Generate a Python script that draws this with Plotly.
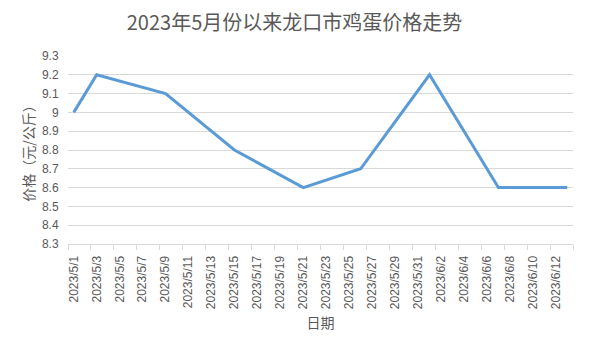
import plotly.graph_objects as go
import pandas as pd

# ---- data ----
dates = ["2023-05-01", "2023-05-03", "2023-05-09", "2023-05-15", "2023-05-21",
         "2023-05-26", "2023-06-01", "2023-06-07", "2023-06-13"]
prices = [9.0, 9.2, 9.1, 8.8, 8.6, 8.7, 9.2, 8.6, 8.6]

tick_labels = ["2023/5/1", "2023/5/3", "2023/5/5", "2023/5/7", "2023/5/9",
               "2023/5/11", "2023/5/13", "2023/5/15", "2023/5/17", "2023/5/19",
               "2023/5/21", "2023/5/23", "2023/5/25", "2023/5/27", "2023/5/29",
               "2023/5/31", "2023/6/2", "2023/6/4", "2023/6/6", "2023/6/8",
               "2023/6/10", "2023/6/12"]
y_tick_values = [8.3, 8.4, 8.5, 8.6, 8.7, 8.8, 8.9, 9.0, 9.1, 9.2, 9.3]
y_tick_labels = ["8.3", "8.4", "8.5", "8.6", "8.7", "8.8", "8.9", "9", "9.1", "9.2", "9.3"]

title_text = "2023年5月份以来龙口市鸡蛋价格走势"
x_title = "日期"
y_title = "价格（元/公斤）"

# ---- date-axis helpers (points plotted mid-day, like a date category axis) ----
fmt = "%Y-%m-%d %H:%M"
half_day = pd.Timedelta(hours=12)
x_points = [(d + half_day).strftime(fmt) for d in pd.to_datetime(dates)]
tick_days = pd.to_datetime(tick_labels, format="%Y/%m/%d")
major_pos = [(d + half_day).strftime(fmt) for d in tick_days]
minor_days = list(tick_days) + [tick_days[-1] + pd.Timedelta(days=2)]
minor_pos = [d.strftime(fmt) for d in minor_days]

grey = "#595959"
grid = "#D9D9D9"
tick_font = dict(family="Liberation Sans, Arial, sans-serif", size=12, color=grey)
cjk_font = "Noto Sans CJK SC, sans-serif"

fig = go.Figure()
fig.add_trace(go.Scatter(
    x=x_points, y=prices, mode="lines",
    line=dict(color="#5B9BD5", width=3),
    showlegend=False,
))

fig.update_layout(
    width=606, height=341,
    margin=dict(l=68, r=33, t=56, b=97),
    paper_bgcolor="white", plot_bgcolor="white",
    title=dict(text=title_text, x=0.486, xref="container", xanchor="center",
               y=1 - 23 / 341, yref="container", yanchor="middle",
               font=dict(family=cjk_font, size=20, color=grey)),
    xaxis=dict(
        type="date",
        range=[minor_pos[0], minor_pos[-1]],
        tickmode="array", tickvals=major_pos, ticktext=tick_labels,
        tickangle=-90, tickfont=tick_font,
        ticks="outside", ticklen=6, tickcolor="rgba(0,0,0,0)",
        showgrid=False, zeroline=False,
        showline=True, linecolor=grid, linewidth=1,
        minor=dict(tickmode="array", tickvals=minor_pos, ticks="outside",
                   ticklen=5, tickcolor=grid, tickwidth=1, showgrid=False),
        title=dict(text=x_title, standoff=10,
                   font=dict(family=cjk_font, size=14, color=grey)),
        fixedrange=True,
    ),
    yaxis=dict(
        range=[8.3, 9.3],
        tickmode="array", tickvals=y_tick_values, ticktext=y_tick_labels,
        tickfont=tick_font,
        ticks="outside", ticklen=6, tickcolor="rgba(0,0,0,0)",
        showgrid=True, gridcolor=grid, gridwidth=1,
        zeroline=False, showline=False,
        title=dict(text=y_title, standoff=4,
                   font=dict(family=cjk_font, size=14, color=grey)),
        fixedrange=True,
    ),
)

fig.write_html("out.html")
